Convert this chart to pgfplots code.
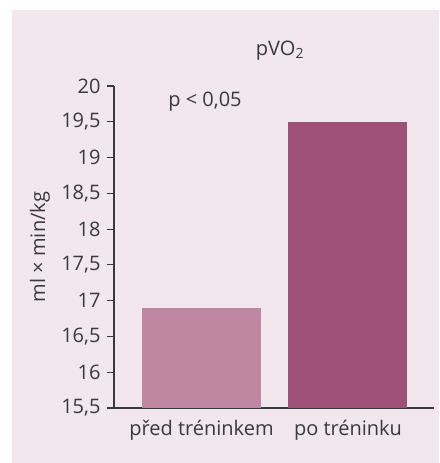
\documentclass[border=0pt]{standalone}
\usepackage{pgfplots}
\pgfplotsset{compat=1.18}
\usepackage{fontspec}
\setmainfont{Open Sans}
\definecolor{bgpink}{HTML}{F2E7ED}
\definecolor{barA}{HTML}{C087A3}
\definecolor{barB}{HTML}{9E5077}
\definecolor{txt}{HTML}{3A3A3A}
\newcommand{\fs}{\fontsize{20}{24}\selectfont}
\begin{document}
\begin{tikzpicture}[x=1pt,y=1pt]
\fill[bgpink] (-102,-54.5) rectangle (325,398);
\begin{axis}[
  at={(0pt,0pt)}, anchor=south west,
  scale only axis, width=320pt, height=322pt,
  xmin=-0.597, xmax=1.587,
  ymin=15.5, ymax=20,
  axis x line*=bottom, axis y line*=left,
  axis line style={txt, line width=1.1pt},
  every tick/.style={txt, line width=1.1pt},
  tick align=outside,
  major tick length=7pt,
  xtick={0,1}, xticklabels={před tréninkem, po tréninku},
  x tick style={draw=none},
  extra x ticks={1.587}, extra x tick labels={},
  extra x tick style={tick style={draw=txt, line width=1.1pt}, major tick length=7pt},
  ytick={15.5,16,...,20},
  yticklabel style={xshift=-3pt, /pgf/number format/use comma, /pgf/number format/fixed, /pgf/number format/precision=1, /pgf/number format/assume math mode=true},
  ticklabel style={font=\fs, text=txt},
  xticklabel style={yshift=-2pt},
  ylabel={ml × min/kg},
  ylabel style={font=\fs, text=txt, at={(axis description cs:-0.2312,0.5)}, anchor=center},
  ybar, bar width=119pt, bar shift=0pt,
  clip=false,
]
\addplot[fill=barA, draw=none] coordinates {(0,16.9)};
\addplot[fill=barB, draw=none] coordinates {(1,19.5)};
\node[font=\fs, text=txt] at (axis cs:0.536,20.5) {pVO\textsubscript{2}};
\node[font=\fs, text=txt] at (axis cs:0.024,19.78) {p < 0,05};
\end{axis}
\pgfresetboundingbox
\path (-114,-55) rectangle (325,408);
\end{tikzpicture}
\end{document}
